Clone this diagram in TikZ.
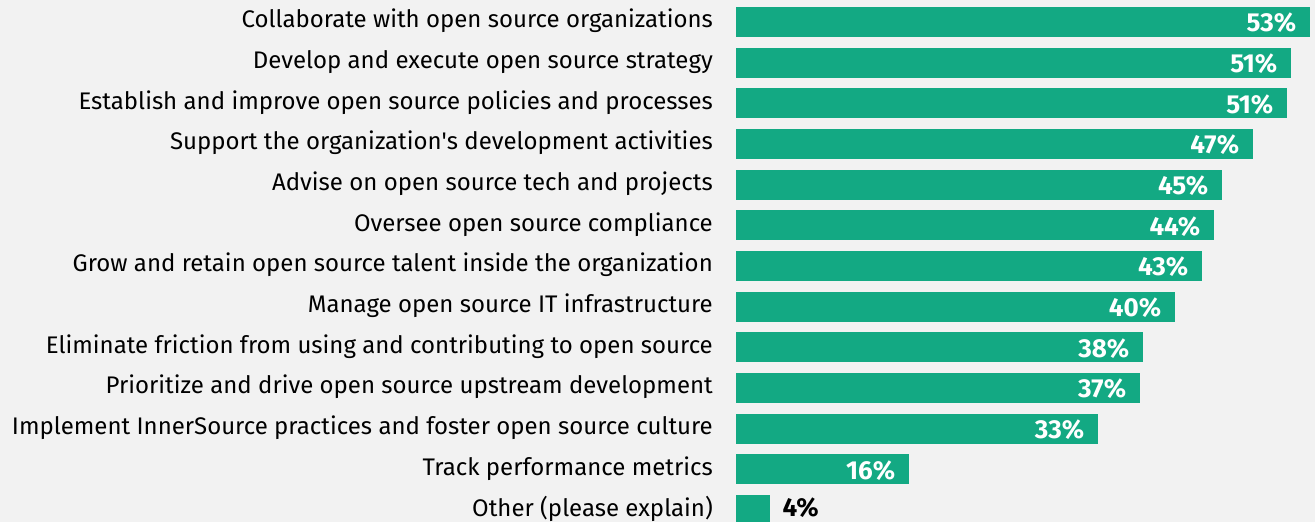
\documentclass[tikz,border=0pt]{standalone}
\usepackage{fontspec}
\setmainfont{Fira Sans}
\usetikzlibrary{positioning}
\definecolor{barfill}{HTML}{13A983}
\definecolor{bgfill}{HTML}{F2F2F2}
\newcommand\R{40.67}
\newcommand\X{736}

\begin{document}
\begin{tikzpicture}[x=1pt,y=-1pt,font=\fontsize{24}{28}\selectfont]

  \tikzstyle{task}=[anchor=east,inner sep=0pt]
  \tikzstyle{bar}=[fill=barfill,anchor=west,inner sep=0pt,minimum height=30pt]
  \tikzstyle{pct}=[anchor=east,inner sep=0pt,text=white,font=\fontsize{26}{30}\selectfont\bfseries]

  \fill[bgfill] (0,0) rectangle (1315,522);
  \useasboundingbox (0,0) rectangle (1315,522);

  \foreach \i/\w/\p/\t in {
      0/574/53/{Collaborate with open source organizations},
      1/555/51/{Develop and execute open source strategy},
      2/551/51/{Establish and improve open source policies and processes},
      3/517/47/{Support the organization\textquotesingle s development activities},
      4/486/45/{Advise on open source tech and projects},
      5/478/44/{Oversee open source compliance},
      6/466/43/{Grow and retain open source talent inside the organization},
      7/439/40/{Manage open source IT infrastructure},
      8/407/38/{Eliminate friction from using and contributing to open source},
      9/404/37/{Prioritize and drive open source upstream development},
      10/362/33/{Implement InnerSource practices and foster open source culture},
      11/173/16/{Track performance metrics}}
  {
    \node[task] (t\i) at (713,{21+\i*\R}) {\t};
    \node[bar,minimum width=\w pt] (b\i) at (\X,{22+\i*\R}) {};
    \node[pct] (p\i) at ([xshift=-14pt,yshift=-1pt]b\i.east) {\p\%};
  }

  \node[task] (t12) at (713,{21+12*\R}) {Other (please explain)};
  \node[bar,minimum width=34pt] (b12) at (\X,{22+12*\R}) {};
  \node[pct,anchor=west,text=black,right=12pt of b12,yshift=2pt] (p12) {4\%};

\end{tikzpicture}
\end{document}
